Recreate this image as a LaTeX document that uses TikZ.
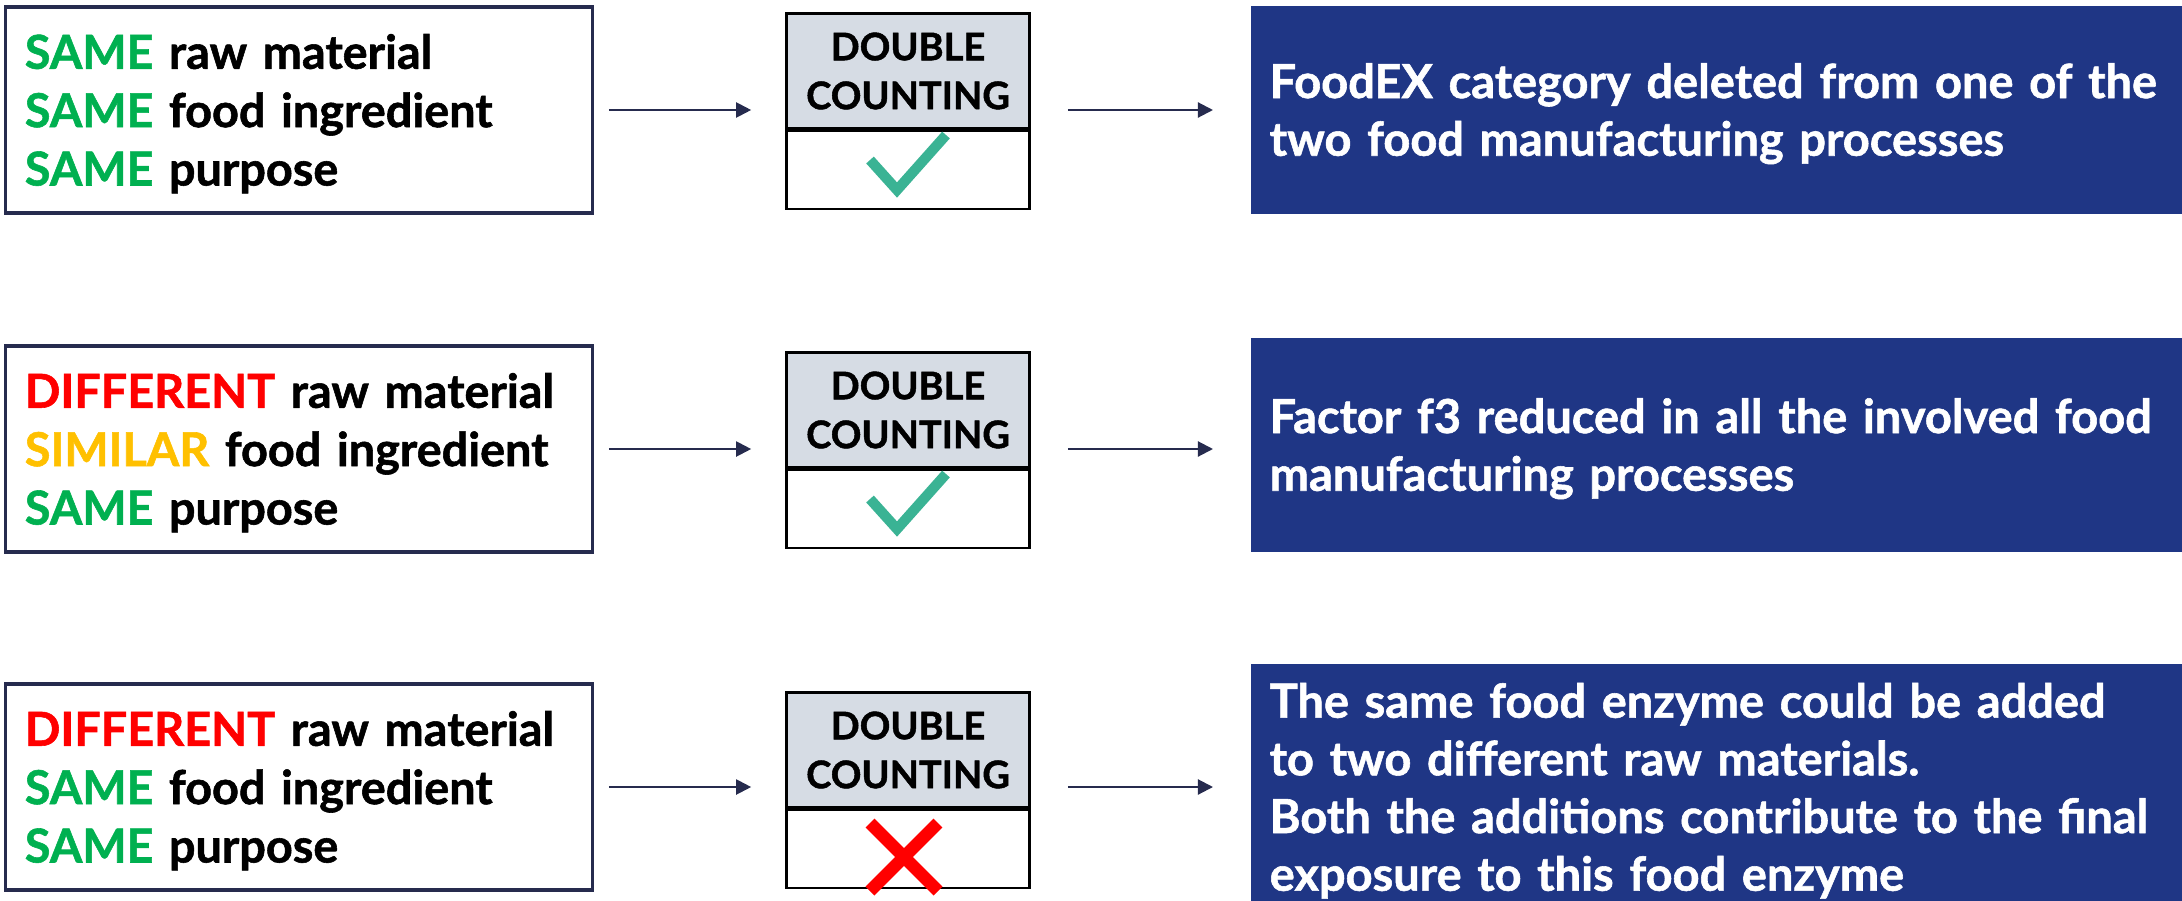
\documentclass[tikz,border=0pt]{standalone}
\usepackage{fontspec}
\setmainfont{Lato}[BoldFeatures={FakeBold=1.2}]
\usepackage{xcolor}
\usepackage{tikz}
\usetikzlibrary{arrows.meta,positioning}
\definecolor{navy}{HTML}{262B4E}
\definecolor{samegreen}{HTML}{00B050}
\definecolor{diffred}{HTML}{FF0000}
\definecolor{simyellow}{HTML}{FFC000}
\definecolor{darkblue}{HTML}{1F3685}
\definecolor{headgray}{HTML}{D6DCE4}
\definecolor{tickteal}{HTML}{3AB394}
\newcommand{\samew}{\textcolor{samegreen}{SAME}}
\newcommand{\diffw}{\textcolor{diffred}{DIFFERENT}}
\newcommand{\simw}{\textcolor{simyellow}{SIMILAR}}
\newcommand{\topgap}{\rule{0pt}{0.9em}}

\begin{document}
\begin{tikzpicture}[x=0.01cm,y=-0.01cm,
  cond/.style={draw=navy,line width=0.9pt,inner xsep=0.19cm,text width=5.48cm,minimum height=2.06cm,align=left,font=\fontsize{13.3}{16.6}\selectfont\bfseries},
  dchead/.style={draw=black,line width=0.7pt,fill=headgray,minimum width=2.43cm,minimum height=1.15cm,inner sep=0pt,align=center,font=\fontsize{10.8}{13.9}\selectfont\bfseries},
  dcbody/.style={draw=black,line width=0.7pt,fill=white,minimum width=2.43cm,minimum height=0.78cm,inner sep=0pt},
  result/.style={fill=darkblue,text=white,anchor=west,inner xsep=0.19cm,text width=9.1cm,align=left,font=\fontsize{13.35}{16.4}\selectfont\bfseries},
  flow/.style={navy,line width=0.6pt,-{Triangle[length=4.3pt,width=4.3pt]}},
  tick/.style={tickteal,line width=2.9pt},
  cross/.style={diffred,line width=3.6pt}]
  \useasboundingbox (0,0) rectangle (2182,900);

  % row 1
  \node[cond] (lb1) at (299,110) {\topgap\samew{} raw material\\\samew{} food ingredient\\\samew{} purpose};
  \node[dchead] (dch1) at (908,71) {DOUBLE\\COUNTING};
  \node[dcbody,below=0pt of dch1] (dcb1) {};
  \node[result,minimum height=2.07cm] (bb1) at (1250,110) {\topgap FoodEX category deleted from one of the\\two food manufacturing processes};
  \draw[flow,shorten <=0.15cm] (lb1.east) -- ([xshift=-0.34cm]lb1.east -| dch1.west);
  \draw[flow] ([xshift=0.37cm]dch1.east |- lb1.east) -- ([xshift=-0.37cm]bb1.west);
  \draw[tick] ([shift={(-38,-10)}]dcb1.center) -- ([shift={(-11,20)}]dcb1.center) -- ([shift={(38,-35)}]dcb1.center);

  % row 2
  \node[cond] (lb2) at (299,449) {\topgap\diffw{} raw material\\\simw{} food ingredient\\\samew{} purpose};
  \node[dchead] (dch2) at (908,410) {DOUBLE\\COUNTING};
  \node[dcbody,below=0pt of dch2] (dcb2) {};
  \node[result,minimum height=2.14cm] (bb2) at (1250,445) {\topgap Factor f3 reduced in all the involved food\\manufacturing processes};
  \draw[flow,shorten <=0.15cm] (lb2.east) -- ([xshift=-0.34cm]lb2.east -| dch2.west);
  \draw[flow] ([xshift=0.37cm]dch2.east |- lb2.east) -- ([xshift=-0.37cm]bb2.west |- lb2.east);
  \draw[tick] ([shift={(-38,-10)}]dcb2.center) -- ([shift={(-11,20)}]dcb2.center) -- ([shift={(38,-35)}]dcb2.center);

  % row 3
  \node[cond] (lb3) at (299,787) {\topgap\diffw{} raw material\\\samew{} food ingredient\\\samew{} purpose};
  \node[dchead] (dch3) at (908,750) {DOUBLE\\COUNTING};
  \node[dcbody,below=0pt of dch3] (dcb3) {};
  \node[result,minimum height=2.26cm] (bb3) at (1250,787) {\topgap The same food enzyme could be added\\to two different raw materials.\\Both the additions contribute to the final\\exposure to this food enzyme};
  \draw[flow,shorten <=0.15cm] (lb3.east) -- ([xshift=-0.34cm]lb3.east -| dch3.west);
  \draw[flow] ([xshift=0.37cm]dch3.east |- lb3.east) -- ([xshift=-0.37cm]bb3.west);
  \draw[cross] ([shift={(-38,-26)}]dcb3.center) -- ([shift={(30,42)}]dcb3.center);
  \draw[cross] ([shift={(30,-26)}]dcb3.center) -- ([shift={(-38,42)}]dcb3.center);
\end{tikzpicture}
\end{document}
